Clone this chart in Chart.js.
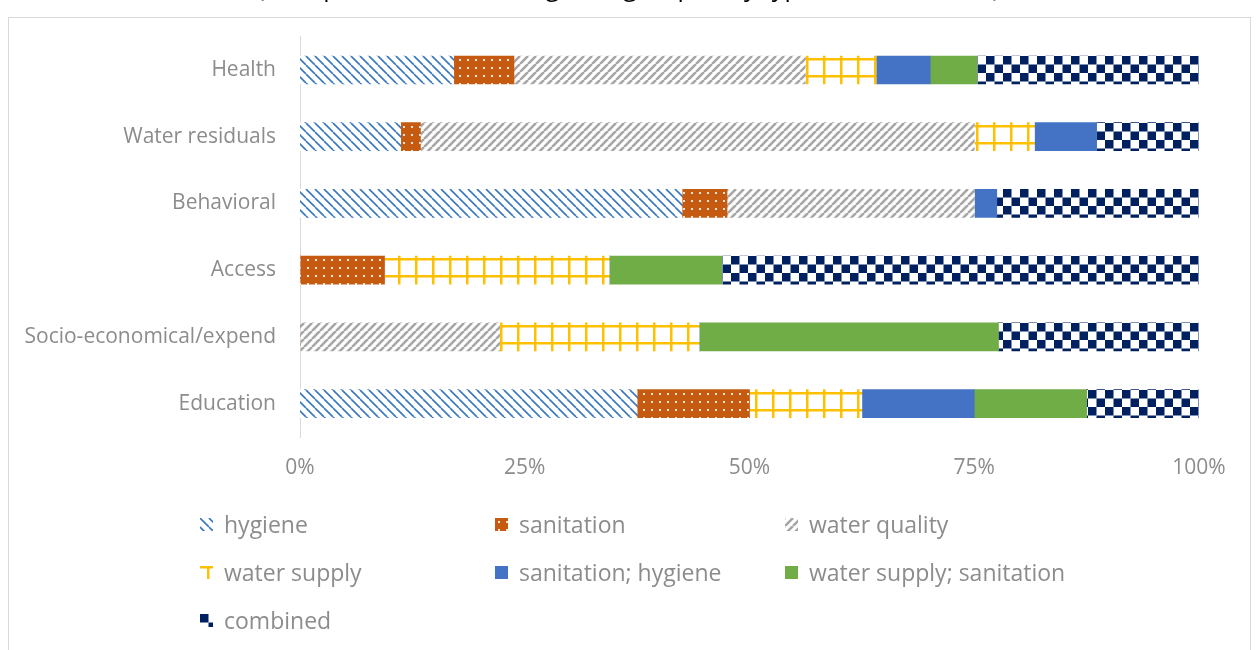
<!DOCTYPE html>
<html>
<head>
<meta charset="utf-8">
<script src="https://cdn.jsdelivr.net/npm/chart.js@4.4.1/dist/chart.umd.min.js"></script>
<style>
  html, body { margin: 0; padding: 0; background: #fff; overflow: hidden; }
  body { width: 1257px; height: 650px; position: relative; font-family: "Open Sans", Lato, sans-serif; }
  #title { position: absolute; left: 0; width: 1257px; top: -27px; height: 40px; line-height: 26px; font-size: 25px; color: #000; text-align: center; white-space: nowrap; z-index: 5; }
  #frame { position: absolute; left: 8px; top: 17px; width: 1243px; height: 660px; border: 1px solid #d9d9d9; box-sizing: border-box; }
  #chartBox { position: absolute; left: 0; top: 0; width: 1257px; height: 500px; }
  #legend { position: absolute; left: 0; top: 0; width: 1257px; height: 650px; pointer-events: none; }
  .item { position: absolute; display: flex; align-items: center; font-size: 23px; color: #8c8c8c; white-space: nowrap; height: 30px; }
  .item canvas { width: 13px; height: 13px; margin-right: 11px; }
</style>
</head>
<body>
<div id="frame"></div>
<div id="chartBox"><canvas id="chart" width="1257" height="500"></canvas></div>
<div id="legend"></div>
<div id="title">(Groups of outcome categories grouped by type of intervention)</div>
<script>
// categories (top to bottom) and share of studies per intervention type, in %
const categories = ['Health', 'Water residuals', 'Behavioral', 'Access', 'Socio-economical/expend', 'Education'];
const hygiene = [17.1, 11.2, 42.5, 0, 0, 37.5];
const sanitation = [6.7, 2.2, 5.0, 9.4, 0, 12.5];
const waterQuality = [32.4, 61.6, 27.5, 0, 22.2, 0];
const waterSupply = [7.9, 6.7, 0, 25.0, 22.2, 12.5];
const sanitationHygiene = [6.0, 6.9, 2.5, 0, 0, 12.5];
const supplySanitation = [5.2, 0, 0, 12.5, 33.3, 12.5];
const combined = [24.7, 11.4, 22.5, 53.1, 22.3, 12.5];
const xTicks = [0, 25, 50, 75, 100];

const BAR = 28;

function makeTile(size, draw) {
    const c = document.createElement('canvas');
    c.width = size; c.height = size;
    const g = c.getContext('2d');
    draw(g, size);
    return c;
}

const tiles = {
    hygiene: makeTile(9, (g, s) => {
        g.fillStyle = '#fff'; g.fillRect(0, 0, s, s);
        g.strokeStyle = '#3877c0'; g.lineWidth = 1.6;
        [-s, 0, s].forEach(k => { g.beginPath(); g.moveTo(k, 0); g.lineTo(k + s, s); g.stroke(); });
    }),
    sanitation: makeTile(8, (g, s) => {
        g.fillStyle = '#c55a11'; g.fillRect(0, 0, s, s);
        g.fillStyle = '#f6e2d2'; g.fillRect(3, 3, 2, 2);
    }),
    waterQuality: makeTile(8, (g, s) => {
        g.fillStyle = '#fff'; g.fillRect(0, 0, s, s);
        g.strokeStyle = '#a6a6a6'; g.lineWidth = 2.6;
        [-s, 0, s].forEach(k => { g.beginPath(); g.moveTo(k, s); g.lineTo(k + s, 0); g.stroke(); });
    }),
    waterSupply: makeTile(17, (g, s) => {
        g.fillStyle = '#fff'; g.fillRect(0, 0, s, s);
        g.fillStyle = '#ffc000';
        g.fillRect(7, 0, 2.5, s);
        g.fillRect(0, 2, s, 2.5);
    }),
    combined: makeTile(17, (g, s) => {
        g.fillStyle = '#fff'; g.fillRect(0, 0, s, s);
        g.fillStyle = '#002060';
        g.fillRect(0, 0, 8.5, 8.5); g.fillRect(8.5, 8.5, 8.5, 8.5);
    })
};

const ctx = document.getElementById('chart').getContext('2d');

// pattern fill that starts at the top edge of each bar, like the Excel original
function barPattern(name) {
    return c => {
        const p = c.chart.ctx.createPattern(tiles[name], 'repeat');
        const y = c.chart.scales.y;
        if (y && c.dataIndex !== undefined) {
            const top = Math.round(y.getPixelForValue(c.dataIndex) - BAR / 2);
            p.setTransform(new DOMMatrix([1, 0, 0, 1, 0, top]));
        }
        return p;
    };
}

const series = [
    { label: 'hygiene', data: hygiene, fill: barPattern('hygiene'), swatch: 'hygiene' },
    { label: 'sanitation', data: sanitation, fill: barPattern('sanitation'), swatch: 'sanitation' },
    { label: 'water quality', data: waterQuality, fill: barPattern('waterQuality'), swatch: 'waterQuality' },
    { label: 'water supply', data: waterSupply, fill: barPattern('waterSupply'), swatch: 'waterSupply', shift: [0, -2] },
    { label: 'sanitation; hygiene', data: sanitationHygiene, fill: '#4472c4' },
    { label: 'water supply; sanitation', data: supplySanitation, fill: '#70ad47' },
    { label: 'combined', data: combined, fill: barPattern('combined'), swatch: 'combined' }
];

new Chart(ctx, {
    type: 'bar',
    data: {
        labels: categories,
        datasets: series.map(s => ({
            label: s.label,
            data: s.data,
            backgroundColor: s.fill,
            borderWidth: 0,
            barThickness: BAR
        }))
    },
    options: {
        indexAxis: 'y',
        responsive: false,
        animation: false,
        layout: { padding: { left: 0, right: 58, top: 35, bottom: 0 } },
        plugins: { legend: { display: false }, tooltip: { enabled: false } },
        scales: {
            x: {
                stacked: true,
                min: 0, max: 100,
                afterBuildTicks: axis => { axis.ticks = xTicks.map(v => ({ value: v })); },
                afterFit: axis => { axis.height = 63; },
                grid: { display: false, drawTicks: false },
                border: { display: false },
                ticks: {
                    padding: 18,
                    color: '#8c8c8c',
                    font: { family: 'Open Sans', size: 21 },
                    callback: v => v + '%'
                }
            },
            y: {
                stacked: true,
                afterFit: axis => { axis.width = 300; },
                grid: { display: false, drawTicks: false },
                border: { display: true, color: '#d9d9d9', width: 1 },
                ticks: {
                    padding: 24,
                    color: '#8c8c8c',
                    font: { family: 'Open Sans', size: 21 }
                }
            }
        }
    }
});

// legend in three columns, like the original
const legendCols = [200, 495, 785];
const legendRows = [524, 572, 620];
const legend = document.getElementById('legend');
series.forEach((s, i) => {
    const item = document.createElement('div');
    item.className = 'item';
    item.style.left = legendCols[i % 3] + 'px';
    item.style.top = (legendRows[Math.floor(i / 3)] - 15) + 'px';
    const sw = document.createElement('canvas');
    sw.width = 13; sw.height = 13;
    const g = sw.getContext('2d');
    if (s.shift) g.translate(s.shift[0], s.shift[1]);
    g.fillStyle = s.swatch ? g.createPattern(tiles[s.swatch], 'repeat') : s.fill;
    g.fillRect(-20, -20, 60, 60);
    item.appendChild(sw);
    item.appendChild(document.createTextNode(s.label));
    legend.appendChild(item);
});
</script>
</body>
</html>
